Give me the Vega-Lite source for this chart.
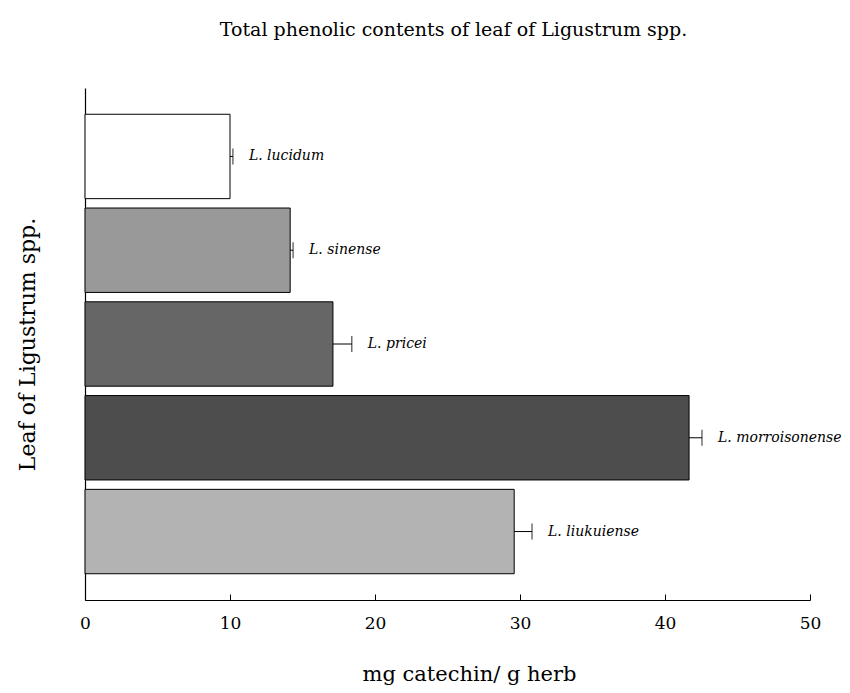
{
  "$schema": "https://vega.github.io/schema/vega-lite/v6.json",
  "autosize": "none",
  "width": 725,
  "height": 512,
  "padding": {"left": 85, "top": 88, "right": 40, "bottom": 93},
  "config": {
    "font": "DejaVu Serif",
    "view": {"stroke": null},
    "background": "white"
  },
  "title": {
    "text": "Total phenolic contents of leaf of Ligustrum spp.",
    "fontSize": 19,
    "fontWeight": "normal",
    "font": "DejaVu Serif",
    "color": "#000000",
    "baseline": "alphabetic",
    "offset": 33,
    "dx": 6
  },
  "data": {
    "values": [
      {"species": "L. lucidum", "value": 10.0, "upper": 10.2, "color": "#ffffff"},
      {"species": "L. sinense", "value": 14.15, "upper": 14.35, "color": "#999999"},
      {"species": "L. pricei", "value": 17.1, "upper": 18.4, "color": "#666666"},
      {"species": "L. morroisonense", "value": 41.66, "upper": 42.55, "color": "#4d4d4d"},
      {"species": "L. liukuiense", "value": 29.6, "upper": 30.83, "color": "#b3b3b3"}
    ]
  },
  "encoding": {
    "y": {
      "field": "species",
      "type": "nominal",
      "sort": null,
      "scale": {"paddingInner": 0.1, "paddingOuter": 0.28},
      "axis": {
        "title": "Leaf of Ligustrum spp.",
        "titleFontSize": 22,
        "titleFontWeight": "normal",
        "titleColor": "#000000",
        "titlePadding": 46,
        "labels": false,
        "ticks": false,
        "domainColor": "#000000",
        "domainWidth": 1.2
      }
    }
  },
  "layer": [
    {
      "mark": {"type": "bar", "stroke": "#000000", "strokeWidth": 1},
      "encoding": {
        "x": {
          "field": "value",
          "type": "quantitative",
          "scale": {"domain": [0, 50], "nice": false},
          "axis": {
            "title": "mg catechin/ g herb",
            "titleFontSize": 21,
            "titleFontWeight": "normal",
            "titleColor": "#000000",
            "titlePadding": 32,
            "titleX": 384,
            "values": [0, 10, 20, 30, 40, 50],
            "grid": false,
            "tickSize": -6,
            "tickColor": "#000000",
            "domainColor": "#000000",
            "domainWidth": 1.2,
            "labelFontSize": 17,
            "labelColor": "#000000",
            "labelPadding": 21,
            "labelFlush": false
          }
        },
        "fill": {"field": "color", "type": "nominal", "scale": null}
      }
    },
    {
      "mark": {"type": "rule", "color": "#000000", "strokeWidth": 1},
      "encoding": {
        "x": {"field": "value", "type": "quantitative"},
        "x2": {"field": "upper"}
      }
    },
    {
      "mark": {"type": "tick", "color": "#000000", "orient": "vertical", "size": 16, "thickness": 1.2},
      "encoding": {
        "x": {"field": "upper", "type": "quantitative"}
      }
    },
    {
      "mark": {"type": "text", "align": "left", "baseline": "middle", "dx": 16, "fontStyle": "italic", "fontSize": 14, "color": "#000000"},
      "encoding": {
        "x": {"field": "upper", "type": "quantitative"},
        "text": {"field": "species"}
      }
    }
  ]
}
